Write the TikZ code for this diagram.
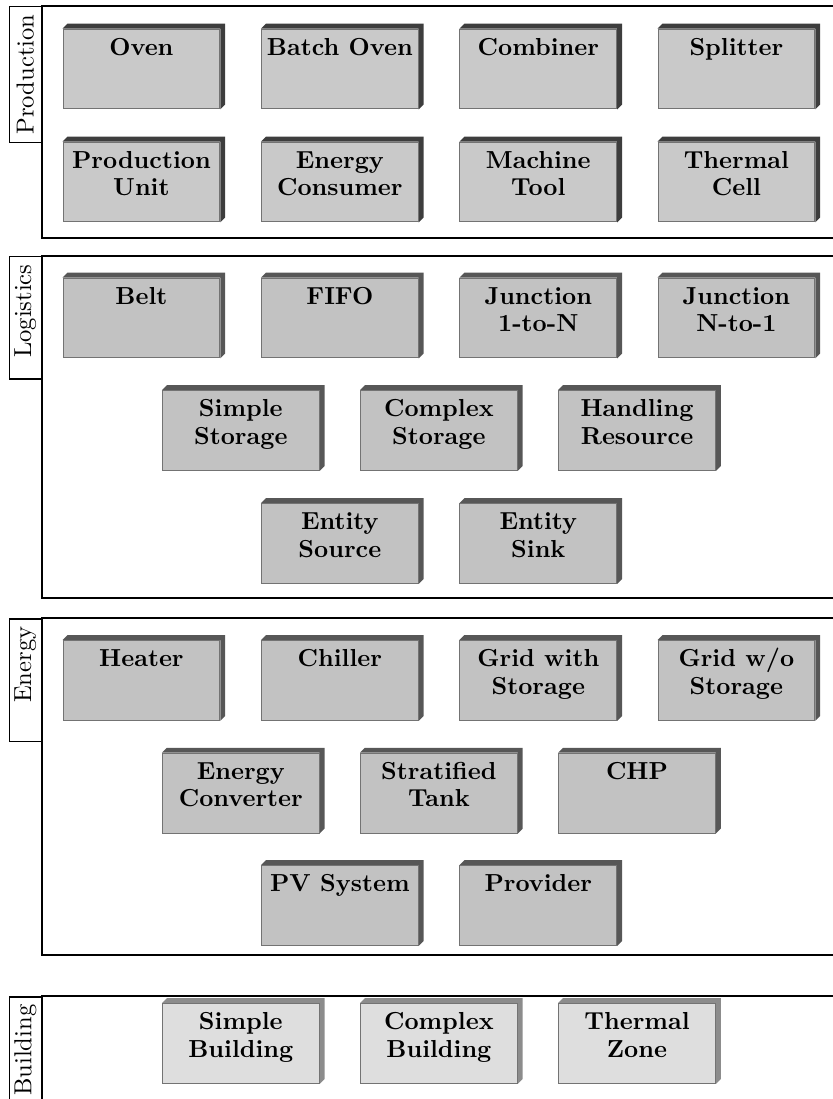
\documentclass[tikz,border=0pt]{standalone}
\usepackage{tikz}
\usetikzlibrary{positioning,calc,backgrounds}

\colorlet{prodfill}{black!21}
\colorlet{prodedge}{black!76}
\colorlet{logfill}{black!24}
\colorlet{logedge}{black!66}
\colorlet{bldgfill}{black!13}
\colorlet{bldgedge}{black!45}

% text of a component box, set at the top of the box
\newcommand{\boxtext}[1]{\parbox[c][1.14cm][t]{2.2cm}{\centering\baselineskip=11.2pt\rule{0pt}{3.7mm}#1}}

\begin{document}
\begin{tikzpicture}[
  unit/.style={rectangle,draw=black!55,fill=#1,minimum width=2.24cm,minimum height=1.14cm,inner sep=0pt,font=\bfseries},
  extrude/.style={fill=#1},
  groupframe/.style={semithick},
  grouplabel/.style={draw,semithick,rotate=90,anchor=south east,minimum height=0.457cm,inner xsep=0.11cm,inner ysep=0pt,text width=#1,align=right},
]
\useasboundingbox (0,0) rectangle (11.9,-15.7);
\clip (0,0) rectangle (11.9,-15.7);

% === PRODUCTION ===
\draw[groupframe] (0.6,-0.086) rectangle (12.2,-3.4);
\node[grouplabel=1.72cm] (lprod) at (0.6,-0.086) {Production};

\node[unit=prodfill] (oven)       at (2.02,-0.986)  {\boxtext{Oven}};
\node[unit=prodfill] (batchoven)  at (4.855,-0.986) {\boxtext{Batch Oven}};
\node[unit=prodfill] (combiner)   at (7.69,-0.986)  {\boxtext{Combiner}};
\node[unit=prodfill] (splitter)   at (10.52,-0.986) {\boxtext{Splitter}};
\node[unit=prodfill] (produnit)   at (2.02,-2.6)    {\boxtext{Production\\Unit}};
\node[unit=prodfill] (energycons) at (4.855,-2.6)   {\boxtext{Energy\\Consumer}};
\node[unit=prodfill] (machtool)   at (7.69,-2.6)    {\boxtext{Machine\\Tool}};
\node[unit=prodfill] (thermcell)  at (10.52,-2.6)   {\boxtext{Thermal\\Cell}};

% === LOGISTICS ===
\draw[groupframe] (0.6,-3.657) rectangle (12.2,-8.543);
\node[grouplabel=1.53cm] (llog) at (0.6,-3.657) {Logistics};

\node[unit=logfill] (belt)        at (2.02,-4.543)  {\boxtext{Belt}};
\node[unit=logfill] (fifo)        at (4.855,-4.543) {\boxtext{FIFO}};
\node[unit=logfill] (junconen)    at (7.69,-4.543)  {\boxtext{Junction\\1-to-N}};
\node[unit=logfill] (juncnone)    at (10.52,-4.543) {\boxtext{Junction\\N-to-1}};
\node[unit=logfill] (simplestor)  at (3.44,-6.15)   {\boxtext{Simple\\Storage}};
\node[unit=logfill] (complexstor) at (6.27,-6.15)   {\boxtext{Complex\\Storage}};
\node[unit=logfill] (handling)    at (9.10,-6.15)   {\boxtext{Handling\\Resource}};
\node[unit=logfill] (entsource)   at (4.855,-7.764) {\boxtext{Entity\\Source}};
\node[unit=logfill] (entsink)     at (7.69,-7.764)  {\boxtext{Entity\\Sink}};

% === ENERGY ===
\draw[groupframe] (0.6,-8.829) rectangle (12.2,-13.643);
\node[grouplabel=1.53cm] (lenergy) at (0.6,-8.829) {Energy};

\node[unit=logfill] (heater)     at (2.02,-9.721)  {\boxtext{Heater}};
\node[unit=logfill] (chiller)    at (4.855,-9.721) {\boxtext{Chiller}};
\node[unit=logfill] (gridstor)   at (7.69,-9.721)  {\boxtext{Grid with\\Storage}};
\node[unit=logfill] (gridnostor) at (10.52,-9.721) {\boxtext{Grid w/o\\Storage}};
\node[unit=logfill] (enconv)     at (3.44,-11.33)  {\boxtext{Energy\\Converter}};
\node[unit=logfill] (stratank)   at (6.27,-11.33)  {\boxtext{Stratified\\Tank}};
\node[unit=logfill] (chp)        at (9.10,-11.33)  {\boxtext{CHP}};
\node[unit=logfill] (pvsys)      at (4.855,-12.936) {\boxtext{PV System}};
\node[unit=logfill] (provider)   at (7.69,-12.936) {\boxtext{Provider}};

% === BUILDING ===
\draw[groupframe] (0.6,-14.23) rectangle (12.2,-16.2);
\node[grouplabel=1.53cm] (lbldg) at (0.6,-14.23) {Building};

\node[unit=bldgfill] (simplebldg)  at (3.44,-14.907) {\boxtext{Simple\\Building}};
\node[unit=bldgfill] (complexbldg) at (6.27,-14.907) {\boxtext{Complex\\Building}};
\node[unit=bldgfill] (thermzone)   at (9.10,-14.907) {\boxtext{Thermal\\Zone}};

% 3d edges behind the boxes
\begin{scope}[on background layer]
\foreach \n in {oven,batchoven,combiner,splitter,produnit,energycons,machtool,thermcell}
  \fill[extrude=prodedge] (\n.north west) -- ++(0.07,0.07) -- ($(\n.north east)+(0.07,0.07)$) -- ($(\n.south east)+(0.07,0.07)$) -- (\n.south east) -- (\n.north east) -- cycle;
\foreach \n in {belt,fifo,junconen,juncnone,simplestor,complexstor,handling,entsource,entsink,heater,chiller,gridstor,gridnostor,enconv,stratank,chp,pvsys,provider}
  \fill[extrude=logedge] (\n.north west) -- ++(0.07,0.07) -- ($(\n.north east)+(0.07,0.07)$) -- ($(\n.south east)+(0.07,0.07)$) -- (\n.south east) -- (\n.north east) -- cycle;
\foreach \n in {simplebldg,complexbldg,thermzone}
  \fill[extrude=bldgedge] (\n.north west) -- ++(0.07,0.07) -- ($(\n.north east)+(0.07,0.07)$) -- ($(\n.south east)+(0.07,0.07)$) -- (\n.south east) -- (\n.north east) -- cycle;
\end{scope}

\end{tikzpicture}
\end{document}
